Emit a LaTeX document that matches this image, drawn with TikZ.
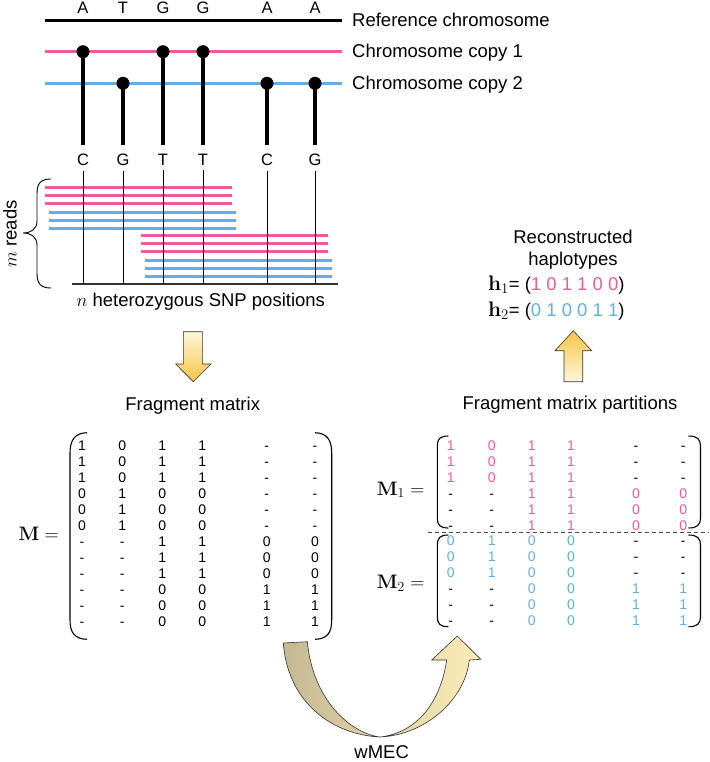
\RequirePackage{fix-cm}
\documentclass[tikz,border=0pt]{standalone}
\usepackage[no-math]{fontspec}
\setmainfont{Liberation Sans}

\definecolor{copyone}{HTML}{EC5B9D}
\definecolor{copytwo}{HTML}{62AEE8}
\definecolor{arrowpale}{HTML}{FFF5D8}
\definecolor{arrowgold}{HTML}{F6C548}
\definecolor{wmecleft}{HTML}{C4B894}
\definecolor{wmecmid}{HTML}{C29835}
\definecolor{wmecright}{HTML}{FDEDB8}

\def\dashcell{-}
\newcommand\cellval[2]{\edef\tmpcell{#2}\ifx\tmpcell\dashcell -\else\textcolor{#1}{#2}\fi}
\newcommand\haplab[1]{{\fontsize{21}{22}\selectfont$\mathbf{h}_{#1}$}}

\tikzset{
  lbl/.style={font=\fontsize{18.5}{22}\selectfont, inner sep=0pt, anchor=base},
  nucl/.style={font=\fontsize{16.5}{20}\selectfont, inner sep=0pt, anchor=base},
  cell/.style={font=\fontsize{14}{16}\selectfont, inner sep=0pt, anchor=base},
  matlbl/.style={font=\fontsize{19.5}{22}\selectfont, inner sep=0pt, anchor=base west},
  snpdot/.style={circle, fill=black, inner sep=0pt, minimum size=13pt},
  chrom/.style={line width=3pt},
  readline/.style={line width=3pt},
  blockarrow/.style={draw=black!80, line width=0.6pt},
}

\begin{document}
\begin{tikzpicture}[x=1pt,y=-1pt]
\useasboundingbox (0,0) rectangle (709,762);

% chromosomes
\draw[chrom, black] (45,20.7) -- (341.7,20.7);
\draw[chrom, copyone] (45,51.7) -- (341.7,51.7);
\draw[chrom, copytwo] (45,83.3) -- (341.7,83.3);
\node[lbl, anchor=base west] (refchr) at (352,26.8) {Reference chromosome};
\node[lbl, anchor=base west] (chrone) at (352,58) {Chromosome copy 1};
\node[lbl, anchor=base west] (chrtwo) at (352,89.6) {Chromosome copy 2};

% reads
\foreach \y in {187.7,195.7,203.7} \draw[readline, copyone] (45,\y) -- (231.7,\y);
\foreach \y in {212,220,228} \draw[readline, copytwo] (49.3,\y) -- (236,\y);
\foreach \y in {235.7,243.7,251.7} \draw[readline, copyone] (141,\y) -- (327.7,\y);
\foreach \y in {260,268,276} \draw[readline, copytwo] (145.3,\y) -- (331.7,\y);

% SNP positions
\draw[line width=1.2pt, black!80] (71.7,284) -- (338.3,284);
\foreach \x/\y/\refb/\altb [count=\i] in {83/51.7/A/C, 123/83.3/T/G, 163/51.7/G/T, 203/51.7/G/T, 267/83.3/A/C, 315/83.3/A/G} {
    \node[nucl] (ref\i) at (\x,13.3) {\refb};
    \node[nucl] (alt\i) at (\x,165.7) {\altb};
    \node[snpdot] (dot\i) at (\x,\y) {};
    \coordinate (foot\i) at (\x,284);
    \draw[line width=3.5pt, shorten >=9pt] (dot\i.center) -- (alt\i.north);
    \draw[line width=0.9pt, shorten <=4.5pt] (alt\i.south) -- (foot\i);
}

% m reads
\draw[line width=0.9pt] (51,179) .. controls (40,179) and (37,184) .. (37,194) -- (37,221)
    .. controls (37,229) and (31,233) .. (23,233) .. controls (31,233) and (37,237) .. (37,245)
    -- (37,273) .. controls (37,283) and (40,288) .. (51,288);
\node[lbl, rotate=90, anchor=center] (mreads) at (10,234) {$m$ reads};
\node[lbl] (npos) at (200.8,306.7) {$n$ heterozygous SNP positions};

% down arrow
\draw[blockarrow, top color=arrowpale, bottom color=arrowgold] (183.3,331.7) -- (202.3,331.7)
    -- (202.3,364) -- (211,364) -- (193.3,381.7) -- (175.7,364) -- (183.3,364) -- cycle;
\node[lbl] (fragtitle) at (192.7,410.7) {Fragment matrix};

% fragment matrix
\node[matlbl] (mlabel) at (18.3,540) {$\mathbf{M} =$};
\draw[line width=1.1pt] (87,432.7) .. controls (75,433) and (70,440) .. (70,453) -- (70,620)
    .. controls (70,633) and (75,639) .. (87,639.3);
\draw[line width=1.1pt] (315,432.7) .. controls (327,433) and (331.7,440) .. (331.7,453) -- (331.7,620)
    .. controls (331.7,633) and (327,639) .. (315,639.3);
\foreach \row [count=\r] in {{1,0,1,1,-,-},{1,0,1,1,-,-},{1,0,1,1,-,-},{0,1,0,0,-,-},{0,1,0,0,-,-},{0,1,0,0,-,-},
    {-,-,1,1,0,0},{-,-,1,1,0,0},{-,-,1,1,0,0},{-,-,0,0,1,1},{-,-,0,0,1,1},{-,-,0,0,1,1}} {
    \foreach \v [count=\c] in \row {
        \pgfmathsetmacro\cx{{82,122.3,162.3,202.3,266.7,315}[\c-1]}
        \node[cell] (m-\r-\c) at (\cx,{450.7+16*(\r-1)}) {\v};
    }
}

% wMEC arrow
\draw[blockarrow, left color=wmecleft, middle color=wmecmid, right color=wmecright]
    (283.3,643) .. controls (288,705) and (335,735) .. (380,737)
    .. controls (425,735) and (465,700) .. (469.3,660) -- (480.7,659.3) -- (457.3,636) -- (431.7,660)
    -- (446.7,660) .. controls (440,705) and (415,733) .. (380,737)
    .. controls (350,733) and (313,700) .. (307.3,641.7) -- cycle;
\node[lbl] (wmec) at (381.7,758) {wMEC};

% partitions
\node[lbl] (parttitle) at (570,409.3) {Fragment matrix partitions};
\node[matlbl] (mone) at (376.7,495) {$\mathbf{M}_1 =$};
\node[matlbl] (mtwo) at (376.7,588.3) {$\mathbf{M}_2 =$};
\foreach \top/\bot in {436/528, 535/626.7} {
    \draw[line width=1.1pt] (448.3,\top) .. controls (440,\top) and (437.3,\top+3) .. (437.3,\top+10) -- (437.3,\bot-10)
        .. controls (437.3,\bot-3) and (440,\bot) .. (448.3,\bot);
    \draw[line width=1.1pt] (688.5,\top) .. controls (697,\top) and (700.5,\top+3) .. (700.5,\top+10) -- (700.5,\bot-10)
        .. controls (700.5,\bot-3) and (697,\bot) .. (688.5,\bot);
}
\draw[black!70, line width=0.9pt, dash pattern=on 4pt off 3pt] (428.3,532.3) -- (709,532.3);
\foreach \row [count=\r] in {{1,0,1,1,-,-},{1,0,1,1,-,-},{1,0,1,1,-,-},{-,-,1,1,0,0},{-,-,1,1,0,0},{-,-,1,1,0,0}} {
    \foreach \v [count=\c] in \row {
        \pgfmathsetmacro\cx{{450.7,491.7,531.7,571,636,683.3}[\c-1]}
        \node[cell] (ma-\r-\c) at (\cx,{450+16*(\r-1)}) {\cellval{copyone}{\v}};
    }
}
\foreach \row [count=\r] in {{0,1,0,0,-,-},{0,1,0,0,-,-},{0,1,0,0,-,-},{-,-,0,0,1,1},{-,-,0,0,1,1},{-,-,0,0,1,1}} {
    \foreach \v [count=\c] in \row {
        \pgfmathsetmacro\cx{{450.7,491.7,531.7,571,636,683.3}[\c-1]}
        \node[cell] (mb-\r-\c) at (\cx,{545.7+16*(\r-1)}) {\cellval{copytwo}{\v}};
    }
}

% up arrow
\draw[blockarrow, top color=arrowgold, bottom color=arrowpale] (564,381.7) -- (582.7,381.7)
    -- (582.7,350.7) -- (591.7,350.7) -- (573.3,330.7) -- (555,350.7) -- (564,350.7) -- cycle;

% haplotypes
\node[lbl] (recon) at (573,243.3) {Reconstructed};
\node[lbl] (haplo) at (573,265.7) {haplotypes};
\node[lbl] (hone) at (556.3,290.7) {\haplab{1}= (\textcolor{copyone}{1 0 1 1 0 0})};
\node[lbl] (htwo) at (556.3,316) {\haplab{2}= (\textcolor{copytwo}{0 1 0 0 1 1})};
\end{tikzpicture}
\end{document}
